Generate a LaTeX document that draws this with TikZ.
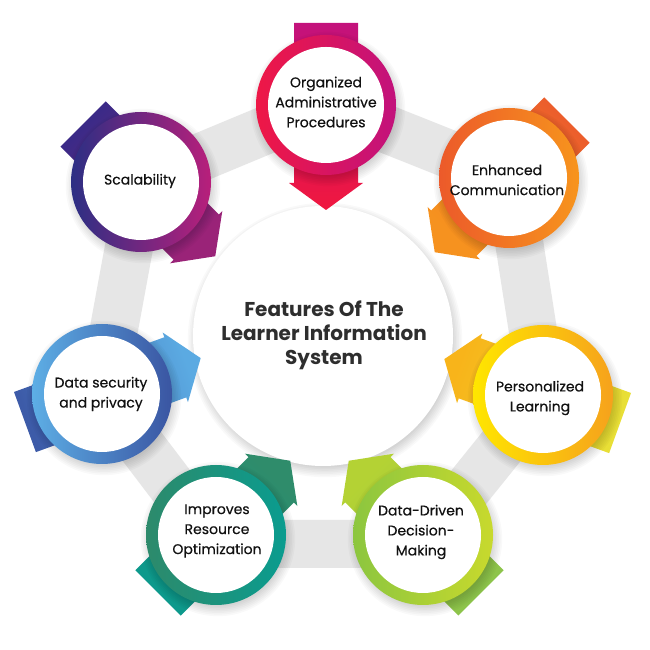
\documentclass[tikz,border=0pt]{standalone}
\usepackage{fontspec}
\setmainfont{Poppins}
\newfontfamily\itemfont{Poppins}[FakeBold=0.4]
\usetikzlibrary{calc}
\definecolor{bandgray}{HTML}{E6E6E6}
\definecolor{txt}{HTML}{111111}
\definecolor{titletxt}{HTML}{2E2E2E}
\definecolor{ringAa}{HTML}{EE1746}\definecolor{ringAb}{HTML}{C2127C}
\definecolor{tailA}{HTML}{C3127C}\definecolor{headA}{HTML}{F0173F}
\definecolor{ringBa}{HTML}{EC5A2A}\definecolor{ringBb}{HTML}{F7941D}
\definecolor{tailB}{HTML}{EC5E2C}\definecolor{headB}{HTML}{F6921F}
\definecolor{ringCa}{HTML}{FFE600}\definecolor{ringCb}{HTML}{F6A21C}
\definecolor{tailC}{HTML}{E8DF36}\definecolor{headC}{HTML}{F8B41A}
\definecolor{ringDa}{HTML}{8CC63F}\definecolor{ringDb}{HTML}{C8D92D}
\definecolor{tailD}{HTML}{8DC44B}\definecolor{headD}{HTML}{B4D234}
\definecolor{ringEa}{HTML}{2D8A6B}\definecolor{ringEb}{HTML}{0A9C8F}
\definecolor{tailE}{HTML}{0D998C}\definecolor{headE}{HTML}{2F8C6B}
\definecolor{ringFa}{HTML}{5DAEE5}\definecolor{ringFb}{HTML}{3A55A2}
\definecolor{tailF}{HTML}{3D5BA8}\definecolor{headF}{HTML}{5BAAE2}
\definecolor{ringGa}{HTML}{2C2F84}\definecolor{ringGb}{HTML}{B81F7B}
\definecolor{tailG}{HTML}{3B2A87}\definecolor{headG}{HTML}{9A2378}
\newcommand{\featarrow}[4]{%
  \pgfmathsetmacro{\shadeang}{#2-90}%
  \shade[bottom color=#3, top color=#4, shading angle=\shadeang]
    ($(#1)+(#2+180:82)+(#2+90:32)$) --
    ($(#1)+(#2:78)+(#2+90:32)$) --
    ($(#1)+(#2:78)+(#2+90:37)$) --
    ($(#1)+(#2:105)$) --
    ($(#1)+(#2:78)+(#2-90:37)$) --
    ($(#1)+(#2:78)+(#2-90:32)$) --
    ($(#1)+(#2+180:82)+(#2-90:32)$) -- cycle;}
\newcommand{\softshadow}[2]{%
  \foreach \k in {1,...,7}{\fill[black,opacity=0.025] ($(#1)+(2,-4)$) circle[radius=#2-4+\k*1.6];}}
\tikzset{
  ring/.style={circle, minimum size=140pt, inner sep=0pt},
  hole/.style={circle, fill=white, minimum size=116pt, inner sep=0pt},
  itemtext/.style={font=\itemfont\fontsize{14}{20}\selectfont, align=center, text=txt},
  titletext/.style={font=\bfseries\fontsize{20}{24}\selectfont, align=center, text=titletxt},
  band/.style={draw=bandgray, line width=48pt, line join=miter}
}
\begin{document}
\begin{tikzpicture}[x=1pt,y=1pt]
\useasboundingbox (0,0) rectangle (650,650);
\fill[white] (0,0) rectangle (650,650);
% positions
\coordinate (p0) at (323,314);
\coordinate (p1) at (326,545);
\coordinate (p2) at (509,472);
\coordinate (p3) at (543,255);
\coordinate (p4) at (423,115);
\coordinate (p5) at (216,115);
\coordinate (p6) at (102,256);
\coordinate (p7) at (141,468);
\coordinate (b4) at (423,106);
\coordinate (b5) at (216,106);
% gray band
\draw[band] (p1) -- (p2) -- (p3) -- (b4) -- (b5) -- (p6) -- (p7) -- cycle;
% center circle
\softshadow{p0}{130}
\node[circle, fill=white, minimum size=260pt, inner sep=0pt] (c0) at (p0) {};
\node[titletext] (t0) at (324,315) {Features Of The\\Learner Information\\System};
% arrows
\featarrow{p1}{-90}{tailA}{headA}
\featarrow{p2}{-135}{tailB}{headB}
\featarrow{p3}{160}{tailC}{headC}
\featarrow{p4}{135}{tailD}{headD}
\featarrow{p5}{45}{tailE}{headE}
\featarrow{p6}{20}{tailF}{headF}
\featarrow{p7}{-45}{tailG}{headG}
% circles
\softshadow{p1}{70}\softshadow{p2}{70}\softshadow{p3}{70}\softshadow{p4}{70}
\softshadow{p5}{70}\softshadow{p6}{70}\softshadow{p7}{70}
\node[ring, left color=ringAa, right color=ringAb] (c1) at (p1) {};
\node[ring, left color=ringBa, right color=ringBb] (c2) at (p2) {};
\node[ring, left color=ringCa, right color=ringCb] (c3) at (p3) {};
\node[ring, left color=ringDa, right color=ringDb] (c4) at (p4) {};
\node[ring, left color=ringEa, right color=ringEb] (c5) at (p5) {};
\node[ring, left color=ringFa, right color=ringFb] (c6) at (p6) {};
\node[ring, left color=ringGa, right color=ringGb] (c7) at (p7) {};
\node[hole] (h1) at (c1) {};
\node[hole] (h2) at (c2) {};
\node[hole] (h3) at (c3) {};
\node[hole] (h4) at (c4) {};
\node[hole] (h5) at (c5) {};
\node[hole] (h6) at (c6) {};
\node[hole] (h7) at (c7) {};
\node[itemtext] (t1) at (326,548) {Organized\\Administrative\\Procedures};
\node[itemtext] (t2) at (507,470) {Enhanced\\Communication};
\node[itemtext] (t3) at (540,252) {Personalized\\Learning};
\node[itemtext] (t4) at (421,118) {Data-Driven\\Decision-\\Making};
\node[itemtext] (t5) at (217,119) {Improves\\Resource\\Optimization};
\node[itemtext] (t6) at (101,256) {Data security\\and privacy};
\node[itemtext] (t7) at (140,469) {Scalability};
\end{tikzpicture}
\end{document}
